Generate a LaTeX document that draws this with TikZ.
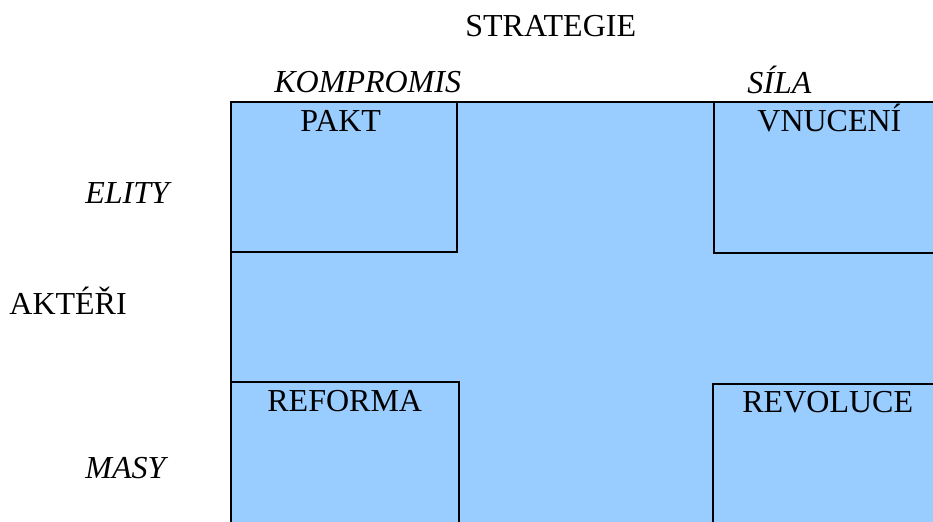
\documentclass[tikz,border=0pt]{standalone}
\usepackage{fontspec}
\setmainfont{Liberation Serif}
\definecolor{sky}{HTML}{99CCFF}
\begin{document}
\begin{tikzpicture}[x=0.5pt, y=-0.5pt, font=\fontsize{16}{19}\selectfont,
		box/.style={draw, fill=sky, line width=1pt, anchor=north west, inner sep=0pt},
		txt/.style={anchor=base west, inner sep=0pt},
		head/.style={txt, font=\fontsize{16}{19}\selectfont\itshape}]
		\clip (0,0) rectangle (933,522);
		% whole field and the four corners
		\node[box, minimum width=360pt, minimum height=220pt] (field) at (229.5,101) {};
		\node[box, minimum width=113pt, minimum height=75pt] (pakt) at (229.5,101) {};
		\node[box, minimum width=120pt, minimum height=75.5pt] (vnuceni) at (713,101) {};
		\node[box, minimum width=114pt, minimum height=80pt] (reforma) at (229.5,381.5) {};
		\node[box, minimum width=120pt, minimum height=80pt] (revoluce) at (711.5,383) {};
		\node[txt] (pakt-t) at (300,132) {PAKT};
		\node[txt] (vnuceni-t) at (757,132) {VNUCENÍ};
		\node[txt] (reforma-t) at (267,412) {REFORMA};
		\node[txt] (revoluce-t) at (742,413) {REVOLUCE};
		% axes
		\node[txt] (strategie) at (465,37) {STRATEGIE};
		\node[head] (kompromis) at (274,93) {KOMPROMIS};
		\node[head] (sila) at (747,94) {SÍLA};
		\node[txt] (akteri) at (9,315) {AKTÉŘI};
		\node[head] (elity) at (85,204) {ELITY};
		\node[head] (masy) at (85,479) {MASY};
\end{tikzpicture}
\end{document}
